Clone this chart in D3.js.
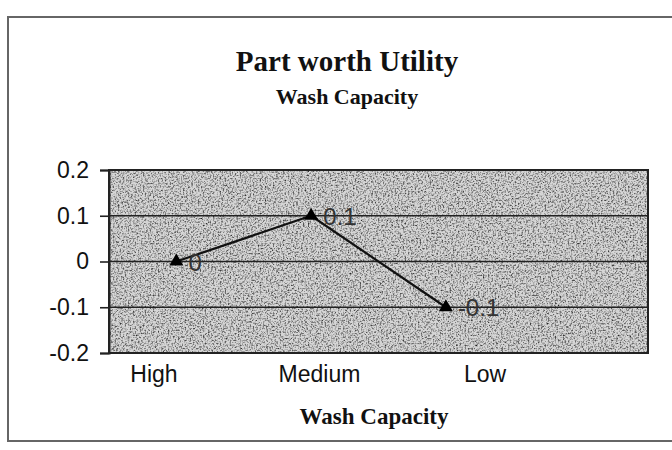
<!DOCTYPE html>
<html>
<head>
<meta charset="utf-8">
<script src="https://cdn.jsdelivr.net/npm/d3@7"></script>
<style>
  body { margin: 0; background: #fff; }
  svg { display: block; }
</style>
</head>
<body>
<div id="chart"></div>
<script>
const categories = ['High', 'Medium', 'Low'];
const utility = [0, 0.1, -0.1];
const pointLabels = ['0', '0.1', '-0.1'];
const yTicks = [0.2, 0.1, 0, -0.1, -0.2];
const yTickLabels = ['0.2', '0.1', '0', '-0.1', '-0.2'];
const chartTitle = 'Part worth Utility';
const chartSubtitle = 'Wash Capacity';
const xTitle = 'Wash Capacity';

const width = 672;
const height = 450;
const plot = { left: 109, right: 648, top: 170, bottom: 353 };

const svg = d3.select('#chart')
    .append('svg')
    .attr('width', width)
    .attr('height', height);

// grainy scan texture for the plot area
const defs = svg.append('defs');
const grain = defs.append('filter').attr('id', 'grain')
    .attr('x', 0).attr('y', 0).attr('width', 1).attr('height', 1);
grain.append('feTurbulence')
    .attr('type', 'fractalNoise')
    .attr('baseFrequency', '0.6')
    .attr('numOctaves', 3)
    .attr('seed', 4);
grain.append('feColorMatrix')
    .attr('type', 'matrix')
    .attr('values', '0 0 0 0 0  0 0 0 0 0  0 0 0 0 0  -1.8 0 0 0 1.0');

// outer frame
svg.append('rect')
    .attr('x', 8).attr('y', 17)
    .attr('width', 700).attr('height', 424)
    .attr('fill', 'none')
    .attr('stroke', '#666')
    .attr('stroke-width', 2);

// categories sit in 4 bands, the last one is left empty
const x = d3.scaleBand()
    .domain(categories.concat(['']))
    .range([plot.left, plot.right]);

// the axis labels are spread a little wider than the points
const xLabel = d3.scalePoint()
    .domain(categories)
    .range([154, 485]);

const y = d3.scaleLinear()
    .domain([-0.2, 0.2])
    .range([plot.bottom, plot.top]);

svg.append('rect')
    .attr('x', plot.left).attr('y', plot.top)
    .attr('width', plot.right - plot.left)
    .attr('height', plot.bottom - plot.top)
    .attr('fill', '#d6d6d6');
svg.append('rect')
    .attr('x', plot.left).attr('y', plot.top)
    .attr('width', plot.right - plot.left)
    .attr('height', plot.bottom - plot.top)
    .attr('fill', '#000')
    .attr('filter', 'url(#grain)');

// gridlines
svg.selectAll('.grid')
    .data(yTicks.slice(1, -1))
    .enter()
    .append('line')
    .attr('x1', plot.left).attr('x2', plot.right)
    .attr('y1', d => y(d)).attr('y2', d => y(d))
    .attr('stroke', '#222')
    .attr('stroke-width', 1.6);

// plot border
svg.append('rect')
    .attr('x', plot.left).attr('y', plot.top)
    .attr('width', plot.right - plot.left)
    .attr('height', plot.bottom - plot.top)
    .attr('fill', 'none')
    .attr('stroke', '#222')
    .attr('stroke-width', 2);

// y axis
const yAxis = svg.append('g')
    .attr('transform', `translate(${plot.left},0)`)
    .call(d3.axisLeft(y)
        .tickValues(yTicks)
        .tickFormat((d, i) => yTickLabels[i])
        .tickSize(9)
        .tickPadding(11));
yAxis.select('.domain').attr('stroke', '#222').attr('stroke-width', 2);
yAxis.selectAll('.tick line').attr('stroke', '#222').attr('stroke-width', 1.6);
yAxis.selectAll('.tick text')
    .attr('fill', '#111')
    .style('font-family', 'Liberation Sans, Arial, sans-serif')
    .style('font-size', '23px');

// x category labels
svg.selectAll('.xlab')
    .data(categories)
    .enter()
    .append('text')
    .attr('x', d => xLabel(d))
    .attr('y', 382)
    .attr('text-anchor', 'middle')
    .attr('fill', '#111')
    .style('font-family', 'Liberation Sans, Arial, sans-serif')
    .style('font-size', '23px')
    .text(d => d);

// line + markers
const line = d3.line()
    .x((d, i) => x(categories[i]) + x.bandwidth() / 2)
    .y(d => y(d));

svg.append('path')
    .datum(utility)
    .attr('d', line)
    .attr('fill', 'none')
    .attr('stroke', '#111')
    .attr('stroke-width', 2.2);

svg.selectAll('.marker')
    .data(utility)
    .enter()
    .append('path')
    .attr('d', d3.symbol().type(d3.symbolTriangle).size(85))
    .attr('transform', (d, i) => `translate(${x(categories[i]) + x.bandwidth() / 2},${y(d)})`)
    .attr('fill', '#000');

svg.selectAll('.plabel')
    .data(utility)
    .enter()
    .append('text')
    .attr('x', (d, i) => x(categories[i]) + x.bandwidth() / 2 + 12)
    .attr('y', d => y(d) + 9)
    .attr('fill', '#333')
    .style('font-family', 'Liberation Sans, Arial, sans-serif')
    .style('font-size', '24px')
    .text((d, i) => pointLabels[i]);

// titles
svg.append('text')
    .attr('x', 347).attr('y', 71)
    .attr('text-anchor', 'middle')
    .attr('fill', '#111')
    .style('font-family', 'Liberation Serif, Times New Roman, serif')
    .style('font-weight', 'bold')
    .style('font-size', '29px')
    .text(chartTitle);

svg.append('text')
    .attr('x', 347).attr('y', 104)
    .attr('text-anchor', 'middle')
    .attr('fill', '#111')
    .style('font-family', 'Liberation Serif, Times New Roman, serif')
    .style('font-weight', 'bold')
    .style('font-size', '22px')
    .text(chartSubtitle);

svg.append('text')
    .attr('x', 374).attr('y', 424)
    .attr('text-anchor', 'middle')
    .attr('fill', '#111')
    .style('font-family', 'Liberation Serif, Times New Roman, serif')
    .style('font-weight', 'bold')
    .style('font-size', '23px')
    .text(xTitle);
</script>
</body>
</html>
